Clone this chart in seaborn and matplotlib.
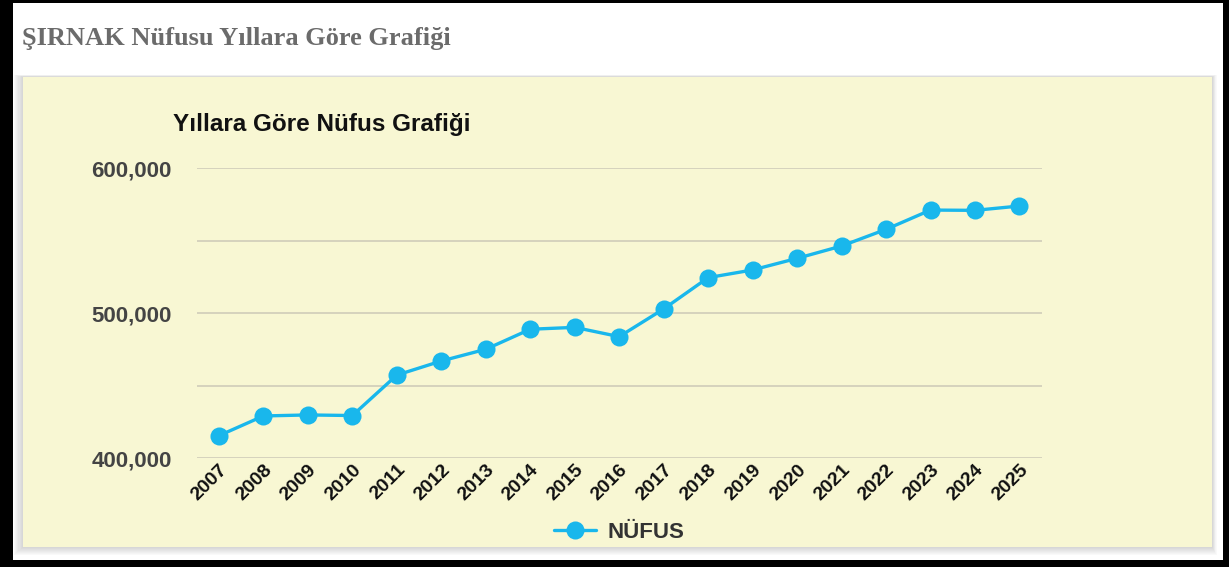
import pandas as pd
import matplotlib.pyplot as plt
import seaborn as sns
from matplotlib.patches import Rectangle

# Population data
years = ['2007', '2008', '2009', '2010', '2011', '2012', '2013', '2014', '2015', '2016',
         '2017', '2018', '2019', '2020', '2021', '2022', '2023', '2024', '2025']
population = [415600, 429200, 429900, 429500, 457400, 467100, 475200, 489000, 490300, 483900,
              503000, 524600, 529900, 537900, 546400, 557900, 571200, 571000, 574000]
y_ticks = [400000, 500000, 600000]
y_grid = [450000, 550000]

df = pd.DataFrame({'Yıl': years, 'NÜFUS': population})

W, H = 1229, 567
LINE = '#19b7ec'
PANEL = '#f8f7d3'

sns.set_style('white')
plt.rcParams['font.family'] = ['Liberation Sans', 'DejaVu Sans']

fig = plt.figure(figsize=(W / 100, H / 100), dpi=100)
fig.patch.set_facecolor('black')


def box(x0, y0, x1, y1, **kw):
    # pixel box (top-left origin) -> figure rectangle
    r = Rectangle((x0 / W, 1 - y1 / H), (x1 - x0) / W, (y1 - y0) / H,
                  transform=fig.transFigure, **kw)
    fig.patches.append(r)


# white page inside the black frame
box(13, 3, 1223, 560, facecolor='white', edgecolor='none', zorder=-5)
# soft shadow around the panel (heavier on the left and bottom)
for i in range(8):
    d = 9 - i * 1.1
    box(23 - d, 77 - d / 4, 1212 + d / 2, 547 + d * 0.9, facecolor='#6e6e6e', alpha=0.035,
        edgecolor='none', zorder=-4)
box(23, 77, 1212, 547, facecolor=PANEL, edgecolor='none', zorder=-3)

fig.text(22 / W, 1 - 38 / H, 'ŞIRNAK Nüfusu Yıllara Göre Grafiği', family='Liberation Serif',
         fontsize=19, fontweight='bold', color='#6b6b6b', va='center', ha='left')
fig.text(173 / W, 1 - 125 / H, 'Yıllara Göre Nüfus Grafiği', fontsize=17.5,
         fontweight='bold', color='#111111', va='center', ha='left')

ax = fig.add_axes([196.7 / W, 1 - 458.3 / H, (1041.7 - 196.7) / W, (458.3 - 168.3) / H])
ax.set_zorder(2)
ax.set_facecolor('none')

for v in y_ticks + y_grid:
    ax.axhline(v, color='#d6d3bd', lw=1.4, zorder=1)

sns.lineplot(data=df, x='Yıl', y='NÜFUS', ax=ax, color=LINE, lw=2.4, marker='o',
             markersize=13, markeredgewidth=0, label='NÜFUS', zorder=3, sort=False)

ax.set_ylim(400000, 600000)
ax.set_xlim(-0.5, len(years) - 0.5)
ax.set_yticks(y_ticks)
ax.set_yticklabels([f'{v:,}' for v in y_ticks])
ax.tick_params(axis='y', length=0, pad=18, labelsize=16, labelcolor='#444444')
ax.tick_params(axis='x', length=0, pad=2, labelsize=14, labelcolor='#111111')
for lab in ax.get_yticklabels():
    lab.set_fontweight('bold')
for lab in ax.get_xticklabels():
    lab.set_fontweight('bold')
    lab.set_rotation(45)
    lab.set_ha('right')
    lab.set_rotation_mode('anchor')
ax.set_xlabel('')
ax.set_ylabel('')
sns.despine(ax=ax, left=True, bottom=True)

leg = ax.legend(loc='center', bbox_to_anchor=(619 / W, 1 - 532 / H),
                bbox_transform=fig.transFigure, frameon=False, handlelength=1.9,
                handletextpad=0.5, prop={'weight': 'bold', 'size': 16})
for t in leg.get_texts():
    t.set_color('#333333')

fig.savefig('out.png', dpi=100, facecolor=fig.get_facecolor())
